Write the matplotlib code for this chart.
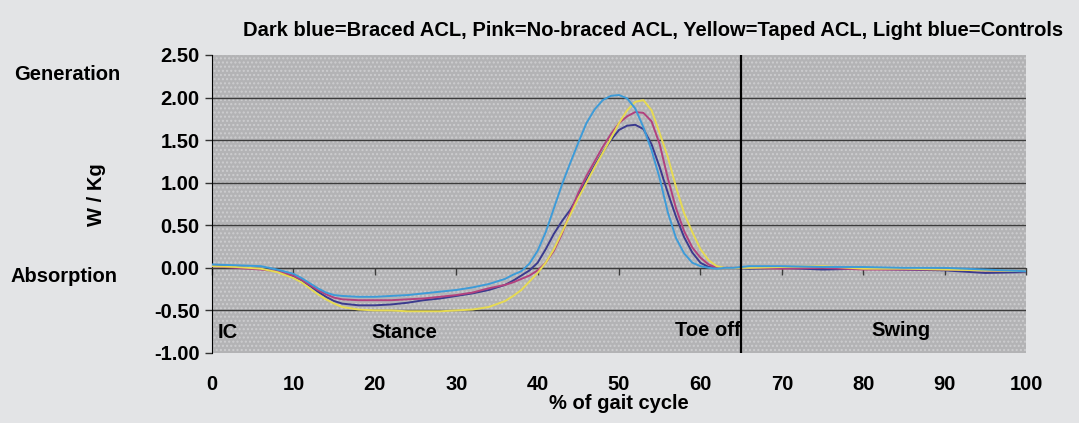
import matplotlib
matplotlib.use("Agg")
import matplotlib.pyplot as plt

# ══════════════════════════════════════════════════════════
# DATOS
# ══════════════════════════════════════════════════════════

pct_ciclo = [0, 3, 6, 8, 10, 11, 12, 13, 14, 15, 16, 18, 20, 22, 24, 26, 28,
             30, 32, 34, 36, 37, 38, 39, 40, 41, 42, 43, 44, 45, 46, 47, 48,
             49, 50, 51, 52, 53, 54, 55, 56, 57, 58, 59, 60, 61, 62, 63, 64,
             66, 70, 75, 80, 85, 90, 95, 100]

braced_acl = [0.03, 0.01, -0.01, -0.04, -0.10, -0.15, -0.21, -0.28, -0.34,
              -0.39, -0.42, -0.44, -0.44, -0.43, -0.41, -0.38, -0.36, -0.33,
              -0.30, -0.26, -0.20, -0.15, -0.09, -0.03, 0.06, 0.22, 0.40,
              0.55, 0.68, 0.85, 1.03, 1.20, 1.36, 1.50, 1.62, 1.67, 1.68,
              1.63, 1.45, 1.18, 0.88, 0.60, 0.36, 0.18, 0.06, 0.01, 0.00,
              0.00, 0.00, -0.01, 0.00, -0.02, -0.01, -0.02, -0.03, -0.06,
              -0.05]

no_braced_acl = [0.02, 0.00, -0.02, -0.04, -0.09, -0.14, -0.20, -0.26, -0.31,
                 -0.35, -0.37, -0.38, -0.38, -0.38, -0.37, -0.36, -0.34,
                 -0.32, -0.29, -0.24, -0.20, -0.17, -0.13, -0.09, -0.03, 0.06,
                 0.20, 0.40, 0.65, 0.88, 1.08, 1.25, 1.42, 1.57, 1.70, 1.78,
                 1.83, 1.82, 1.72, 1.45, 1.05, 0.70, 0.43, 0.24, 0.12, 0.04,
                 0.00, 0.00, 0.00, 0.00, -0.01, 0.00, -0.02, -0.02, -0.02,
                 -0.03, -0.04]

taped_acl = [0.02, 0.01, -0.01, -0.05, -0.12, -0.17, -0.24, -0.31, -0.37,
             -0.42, -0.46, -0.49, -0.50, -0.50, -0.51, -0.51, -0.51, -0.50,
             -0.49, -0.46, -0.39, -0.33, -0.26, -0.16, -0.06, 0.06, 0.22,
             0.42, 0.62, 0.82, 1.00, 1.18, 1.35, 1.52, 1.70, 1.85, 1.95,
             1.97, 1.85, 1.58, 1.30, 0.95, 0.64, 0.42, 0.22, 0.09, 0.02,
             0.00, 0.00, 0.00, 0.01, 0.02, -0.01, -0.01, -0.02, -0.03,
             -0.04]

controles = [0.04, 0.03, 0.02, -0.02, -0.07, -0.12, -0.18, -0.24, -0.29,
             -0.32, -0.33, -0.34, -0.34, -0.33, -0.32, -0.30, -0.28, -0.26,
             -0.23, -0.19, -0.13, -0.08, -0.04, 0.05, 0.20, 0.42, 0.70,
             0.98, 1.23, 1.47, 1.70, 1.86, 1.97, 2.02, 2.03, 1.99, 1.87,
             1.65, 1.38, 1.05, 0.65, 0.35, 0.17, 0.06, 0.02, 0.00, -0.01,
             0.00, 0.00, 0.02, 0.02, 0.01, 0.01, 0.00, 0.00, -0.02, -0.04]

series = [
    (braced_acl, "#3b3a8e"),
    (no_braced_acl, "#b2417e"),
    (taped_acl, "#e6da52"),
    (controles, "#3d9bd8"),
]

y_ticks = [-1.0, -0.5, 0.0, 0.5, 1.0, 1.5, 2.0, 2.5]
x_ticks = list(range(0, 101, 10))
toe_off = 65

titulo = ("Dark blue=Braced ACL, Pink=No-braced ACL, "
          "Yellow=Taped ACL, Light blue=Controls")

FS = 14.5  # tamaño de letra común

# ══════════════════════════════════════════════════════════
# GRÁFICO
# ══════════════════════════════════════════════════════════

plt.rcParams["font.family"] = ["Liberation Sans", "DejaVu Sans"]
plt.rcParams["font.weight"] = "bold"
plt.rcParams["hatch.color"] = "#cdcdcf"
plt.rcParams["hatch.linewidth"] = 1.0

fig = plt.figure(figsize=(10.79, 4.23), dpi=100, facecolor="#e3e4e6")
ax = fig.add_axes([0.1965, 0.1655, 0.7544, 0.7045])
ax.set_facecolor("#b3b3b5")
ax.patch.set_hatch("....")
ax.patch.set_edgecolor("#cdcdcf")
ax.patch.set_linewidth(0)

for valores, color in series:
    ax.plot(pct_ciclo, valores, color=color, lw=1.4, zorder=3)

ax.set_xlim(0, 100)
ax.set_ylim(-1.0, 2.5)

# líneas de rejilla horizontales (sin la de arriba ni la de abajo)
ax.set_yticks(y_ticks)
ax.set_yticklabels([f"{v:.2f}" for v in y_ticks], fontsize=FS,
                   fontweight="bold")
ax.yaxis.grid(True, color="#3c3c3c", lw=1.0)
gl = ax.get_ygridlines()
gl[0].set_visible(False)
gl[-1].set_visible(False)
ax.set_axisbelow(True)
ax.tick_params(axis="y", direction="out", length=5, width=1, pad=4,
               color="#333333")

# eje x cruzando en 0, marcas hacia abajo
ax.spines["bottom"].set_position(("data", 0))
ax.spines["bottom"].set_color("#3c3c3c")
ax.spines["top"].set_visible(False)
ax.spines["right"].set_visible(False)
ax.spines["left"].set_color("black")
ax.set_xticks(x_ticks)
ax.tick_params(axis="x", direction="out", length=5, width=1,
               color="#3c3c3c", labelbottom=False)

# etiquetas del eje x debajo del área
sec = ax.secondary_xaxis("bottom")
sec.set_xticks(x_ticks)
sec.set_xticklabels([str(v) for v in x_ticks], fontsize=FS,
                    fontweight="bold")
sec.tick_params(length=0, pad=16)
sec.spines["bottom"].set_visible(False)
sec.set_xlabel("% of gait cycle", fontsize=FS, fontweight="bold",
               labelpad=0)

ax.axvline(toe_off, color="black", lw=1.6, zorder=4)

# textos de fases
ax.text(0.7, -0.76, "IC", fontsize=FS, fontweight="bold", va="center")
ax.text(23.6, -0.76, "Stance", fontsize=FS, fontweight="bold",
        ha="center", va="center")
ax.text(toe_off - 0.1, -0.74, "Toe off", fontsize=FS, fontweight="bold",
        ha="right", va="center")
ax.text(84.6, -0.74, "Swing", fontsize=FS, fontweight="bold",
        ha="center", va="center")

# textos a la izquierda
fig.text(67 / 1079, 1 - 75 / 423, "Generation", fontsize=FS,
         fontweight="bold", ha="center", va="center")
fig.text(97 / 1079, 1 - 195 / 423, "W / Kg", fontsize=FS,
         fontweight="bold", ha="center", va="center", rotation=90)
fig.text(64 / 1079, 1 - 277 / 423, "Absorption", fontsize=FS,
         fontweight="bold", ha="center", va="center")

fig.text(653 / 1079, 1 - 30 / 423, titulo, fontsize=FS, fontweight="bold",
         ha="center", va="center")

fig.savefig("out.png", dpi=100, facecolor=fig.get_facecolor())
